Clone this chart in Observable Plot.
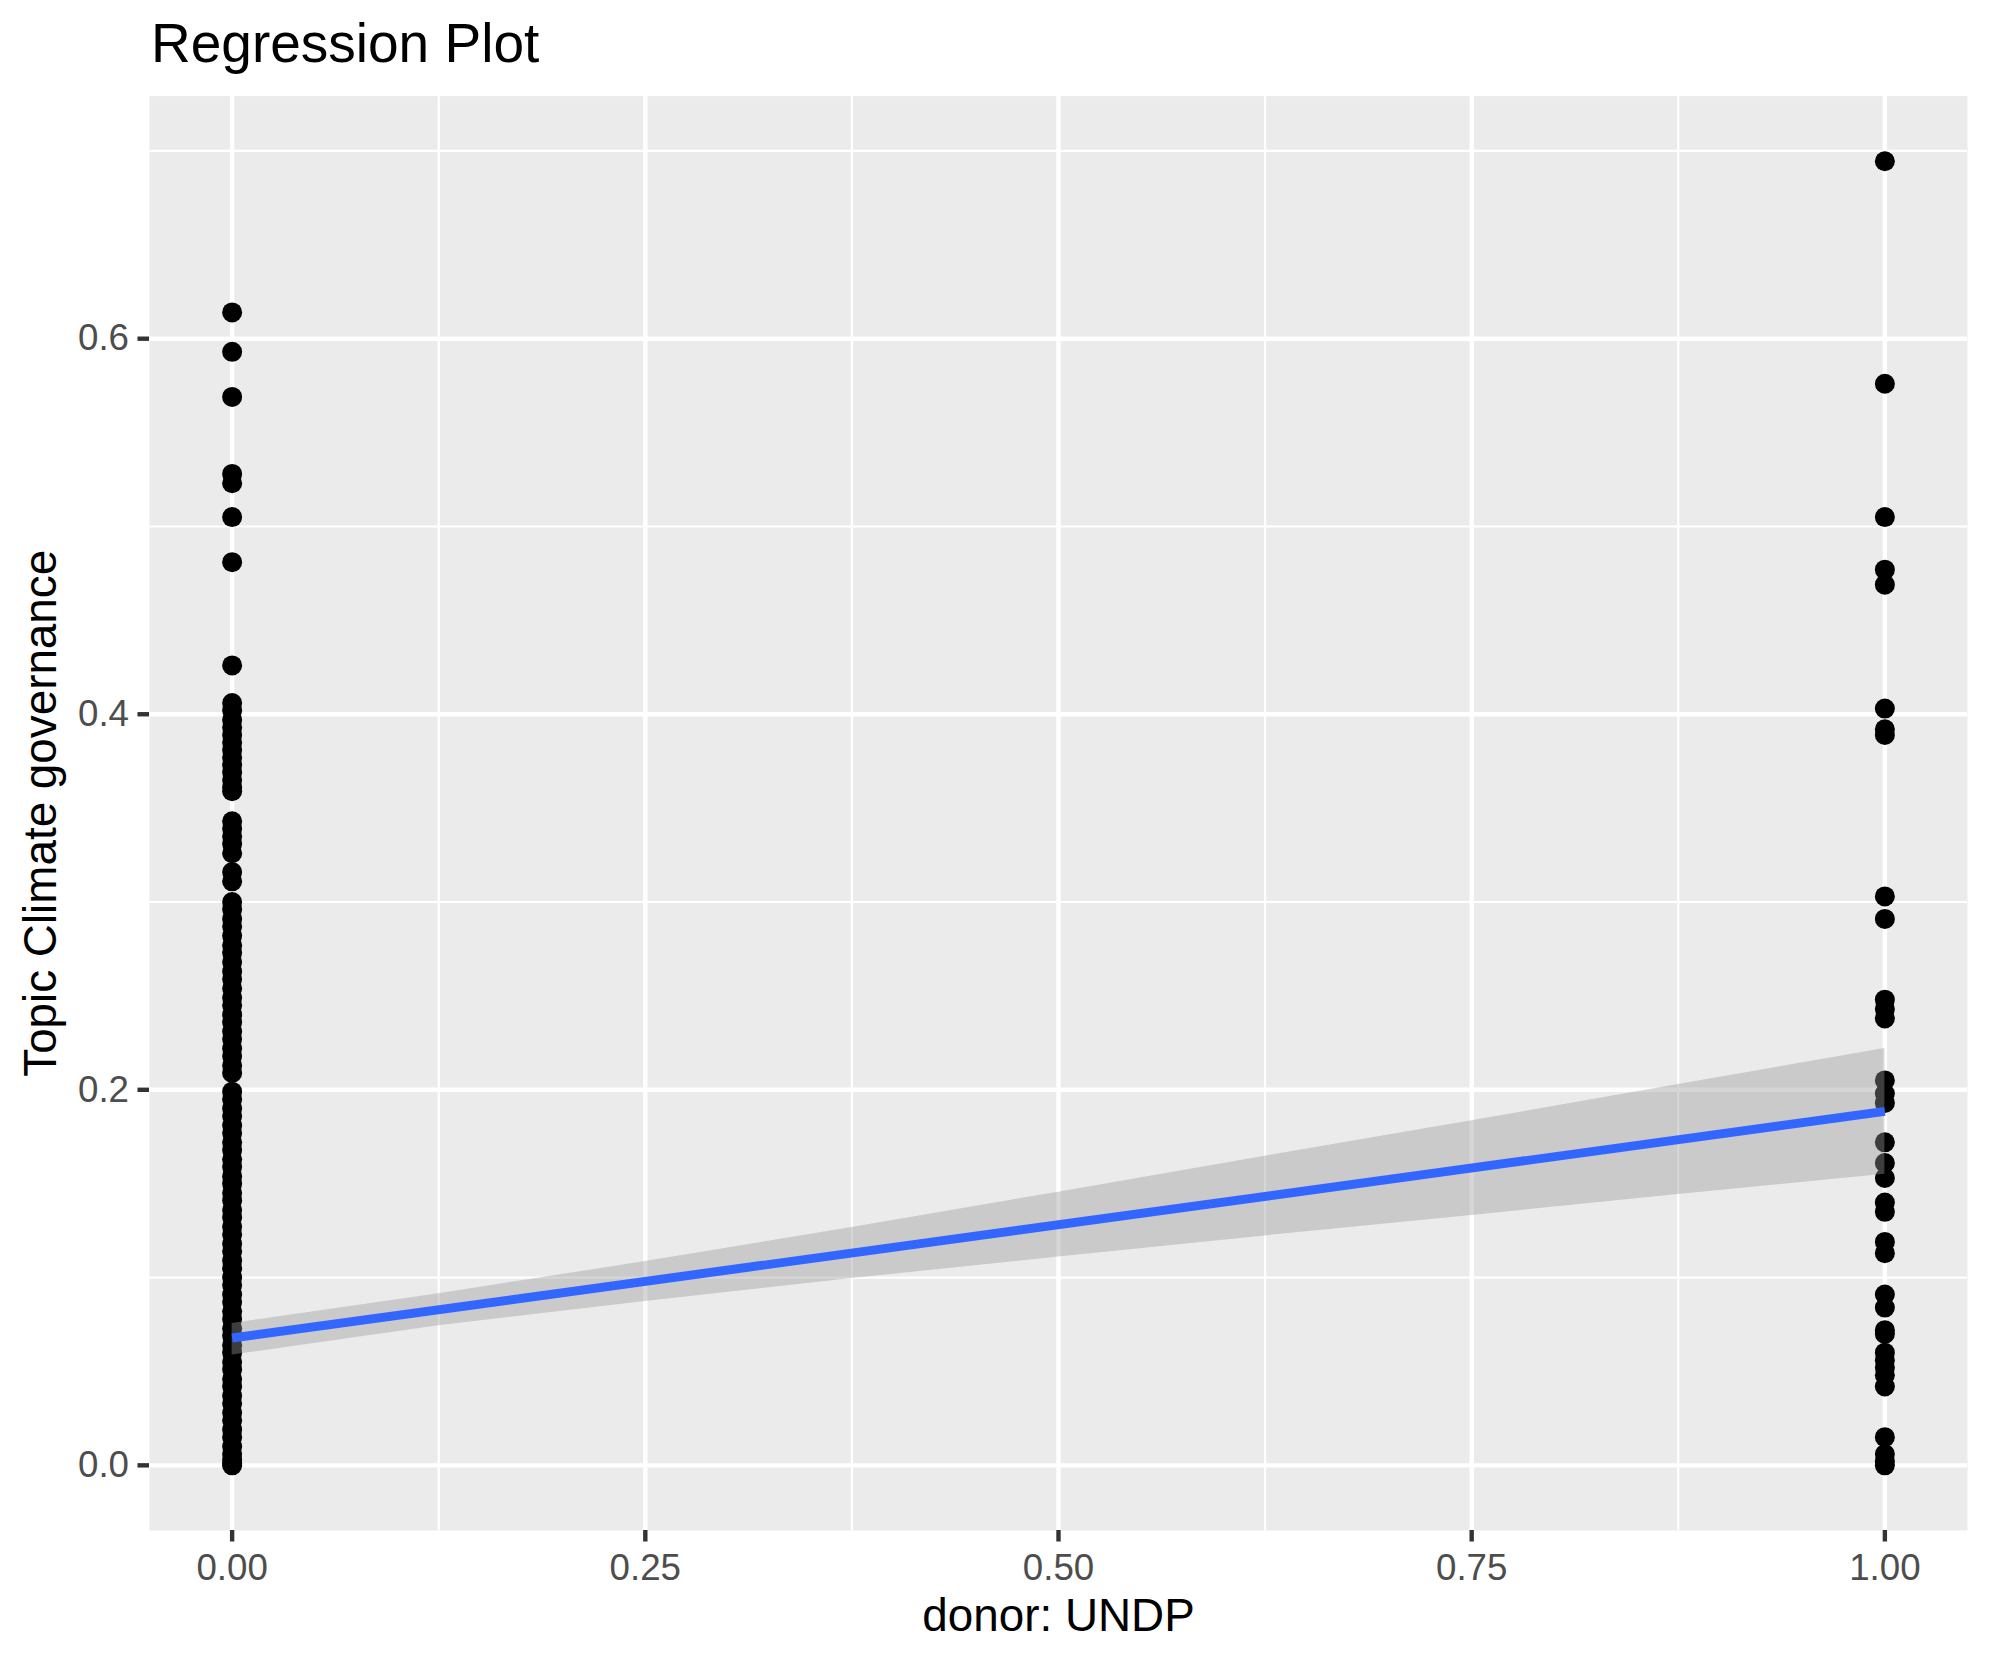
<!DOCTYPE html>
<html>
<head>
<meta charset="utf-8">
<script src="https://cdn.jsdelivr.net/npm/d3@7"></script>
<script src="https://cdn.jsdelivr.net/npm/@observablehq/plot@0.6"></script>
<style>
  html, body { margin: 0; padding: 0; background: #ffffff; }
  #wrap { width: 1990px; height: 1665px; position: relative; overflow: hidden; }
  #title { position: relative; height: 95px; width: 1990px; }
  #title span { position: absolute; left: 151px; top: 16px; font-family: "Liberation Sans", Arial, Helvetica, sans-serif; font-size: 55px; line-height: 55px; color: #000; white-space: nowrap; }
  svg { display: block; }
</style>
</head>
<body>
<div id="wrap">
  <div id="title"><span>Regression Plot</span></div>
  <div id="chart"></div>
</div>
<script>
// ---- data ----
const titleText = "Regression Plot";
const xLabel = "donor: UNDP";
const yLabel = "Topic Climate governance";

// topic share for documents with donor UNDP = 0
const topicDonor0 = [
  0.614, 0.593, 0.569, 0.528, 0.523, 0.505, 0.481, 0.426, 0.406,
  0.402, 0.397, 0.393, 0.389, 0.385, 0.381, 0.377, 0.373, 0.369, 0.365, 0.361, 0.359,
  0.343, 0.339, 0.335, 0.331, 0.326,
  0.316, 0.311,
  0.300, 0.296, 0.291, 0.287, 0.282, 0.277, 0.273, 0.268, 0.263, 0.259,
  0.254, 0.249, 0.245, 0.240, 0.236, 0.231, 0.227, 0.222, 0.218, 0.213,
  0.209, 0.199, 0.195, 0.190, 0.186, 0.181, 0.177, 0.172, 0.168, 0.163,
  0.159, 0.154, 0.150, 0.145, 0.141, 0.136, 0.132, 0.127, 0.123, 0.118,
  0.114, 0.109, 0.105, 0.100, 0.096, 0.091, 0.087, 0.082, 0.078, 0.073,
  0.069, 0.064, 0.060, 0.055, 0.051, 0.046, 0.042, 0.037, 0.033, 0.028,
  0.024, 0.019, 0.015, 0.010, 0.006, 0.003, 0.001, 0.000
];

// topic share for documents with donor UNDP = 1
const topicDonor1 = [
  0.6945, 0.576, 0.505, 0.477, 0.469, 0.403, 0.392, 0.389, 0.303, 0.291,
  0.248, 0.243, 0.238, 0.205, 0.198, 0.193, 0.172, 0.161, 0.153, 0.140,
  0.135, 0.119, 0.113, 0.091, 0.084, 0.072, 0.070, 0.060, 0.056, 0.052,
  0.048, 0.042, 0.015, 0.006, 0.002, 0.000
];

// fitted regression line and its confidence band
const fitX = [0, 1];
const fitY = [0.0678, 0.1885];
const bandX  = [0, 0.125, 0.25, 0.375, 0.5, 0.625, 0.75, 0.875, 1];
const bandLo = [0.0587, 0.0744, 0.0873, 0.0995, 0.1109, 0.1222, 0.1331, 0.1442, 0.1550];
const bandHi = [0.0756, 0.0914, 0.1085, 0.1267, 0.1455, 0.1646, 0.1835, 0.2028, 0.2220];

// axis ticks and grid
const xTicks = [0, 0.25, 0.5, 0.75, 1];
const xMinor = [0.125, 0.375, 0.625, 0.875];
const yTicks = [0, 0.2, 0.4, 0.6];
const yMinor = [0.1, 0.3, 0.5, 0.7];
const xDomain = [-0.05, 1.05];
const yDomain = [-0.0347, 0.7292];

// ---- build tables ----
const points = [
  ...topicDonor0.map(v => ({donor: 0, topic: v})),
  ...topicDonor1.map(v => ({donor: 1, topic: v}))
];
const fit = fitX.map((x, i) => ({x, y: fitY[i]}));
const band = bandX.map((x, i) => ({x, lo: bandLo[i], hi: bandHi[i]}));

const FONT = "'Liberation Sans', Arial, Helvetica, sans-serif";

const chart = Plot.plot({
  width: 1990,
  height: 1570,
  marginTop: 0.6,
  marginBottom: 135,
  marginLeft: 149,
  marginRight: 23,
  style: {background: "#ffffff", fontFamily: FONT, overflow: "visible"},
  x: {domain: xDomain},
  y: {domain: yDomain},
  marks: [
    Plot.frame({fill: "#EBEBEB", stroke: null}),
    Plot.ruleY(yMinor, {stroke: "#ffffff", strokeWidth: 2.2}),
    Plot.ruleX(xMinor, {stroke: "#ffffff", strokeWidth: 2.2}),
    Plot.ruleY(yTicks, {stroke: "#ffffff", strokeWidth: 4.4}),
    Plot.ruleX(xTicks, {stroke: "#ffffff", strokeWidth: 4.4}),
    Plot.dot(points, {x: "donor", y: "topic", r: 10, fill: "#000000", stroke: null}),
    Plot.areaY(band, {x: "x", y1: "lo", y2: "hi", fill: "#999999", fillOpacity: 0.4, stroke: null}),
    Plot.line(fit, {x: "x", y: "y", stroke: "#3366FF", strokeWidth: 8.9, strokeLinecap: "butt"}),
    Plot.axisX(xTicks, {tickSize: 11.5, tickPadding: 12, tickFormat: d3.format(".2f"), fontSize: 36.7,
      stroke: "#333333", strokeWidth: 4.4, fill: "#4D4D4D", label: null}),
    Plot.axisY(yTicks, {tickSize: 11.5, tickPadding: 9, tickFormat: d3.format(".1f"), fontSize: 36.7,
      stroke: "#333333", strokeWidth: 4.4, fill: "#4D4D4D", label: null}),
    Plot.text([xLabel], {text: d => d, frameAnchor: "bottom", dy: 86, fontSize: 45.8, fill: "#000000",
      textAnchor: "middle", lineAnchor: "middle"}),
    Plot.text([yLabel], {text: d => d, frameAnchor: "left", dx: -108, rotate: -90, fontSize: 45.8, fill: "#000000",
      textAnchor: "middle", lineAnchor: "middle"})
  ]
});
document.getElementById("chart").appendChild(chart);
</script>
</body>
</html>
